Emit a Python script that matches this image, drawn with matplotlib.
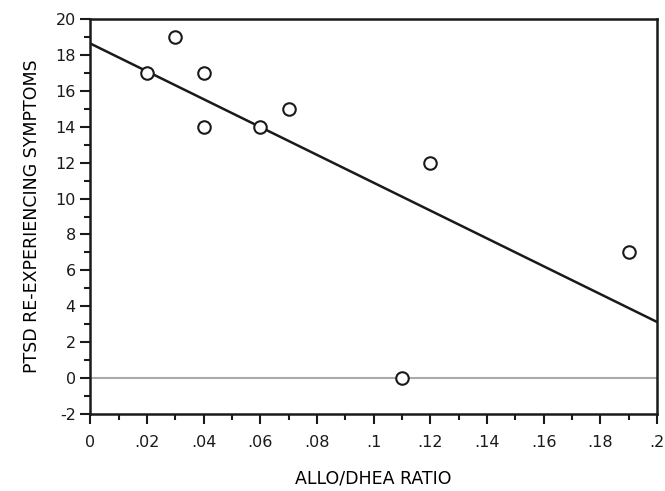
import numpy as np
import matplotlib.pyplot as plt
from matplotlib.ticker import MultipleLocator, FuncFormatter

ratio = [0.02, 0.03, 0.04, 0.04, 0.06, 0.07, 0.11, 0.12, 0.19]
symptoms = [17, 19, 17, 14, 14, 15, 0, 12, 7]

plt.rcParams['font.family'] = 'DejaVu Sans'
plt.rcParams['axes.unicode_minus'] = False

fig = plt.figure(figsize=(6.65, 4.91), dpi=100)
ax = fig.add_axes([0.136, 0.157, 0.852, 0.804])

# fit line over the full x range
slope, intercept = np.polyfit(ratio, symptoms, 1)
xs = np.array([0, 0.2])
ax.plot(xs, intercept + slope * xs, color='#1a1a1a', lw=1.8, zorder=3)

ax.axhline(0, color='#aaaaaa', lw=1.5, zorder=1)

ax.plot(ratio, symptoms, 'o', mfc='white', mec='#1a1a1a', mew=1.5, ms=9, zorder=4)

ax.set_xlim(0, 0.2)
ax.set_ylim(-2, 20)
ax.xaxis.set_major_locator(MultipleLocator(0.02))
ax.xaxis.set_minor_locator(MultipleLocator(0.01))
ax.yaxis.set_major_locator(MultipleLocator(2))
ax.yaxis.set_minor_locator(MultipleLocator(1))

def fmt_x(v, pos):
    if abs(v) < 1e-9:
        return '0'
    s = ('%.2f' % v).rstrip('0')
    return s[1:] if s.startswith('0') else s

ax.xaxis.set_major_formatter(FuncFormatter(fmt_x))

ax.tick_params(which='major', direction='out', length=7, width=1.5, labelsize=11.5, colors='#1a1a1a')
ax.tick_params(which='minor', direction='out', length=4, width=1.5, colors='#1a1a1a')
ax.tick_params(axis='x', pad=8)
for sp in ax.spines.values():
    sp.set_linewidth(1.8)
    sp.set_color('#1a1a1a')

ax.set_xlabel('ALLO/DHEA RATIO', fontsize=12.5, labelpad=14)
ax.set_ylabel('PTSD RE-EXPERIENCING SYMPTOMS', fontsize=12.5, labelpad=10)

fig.savefig('out.png', dpi=100)
